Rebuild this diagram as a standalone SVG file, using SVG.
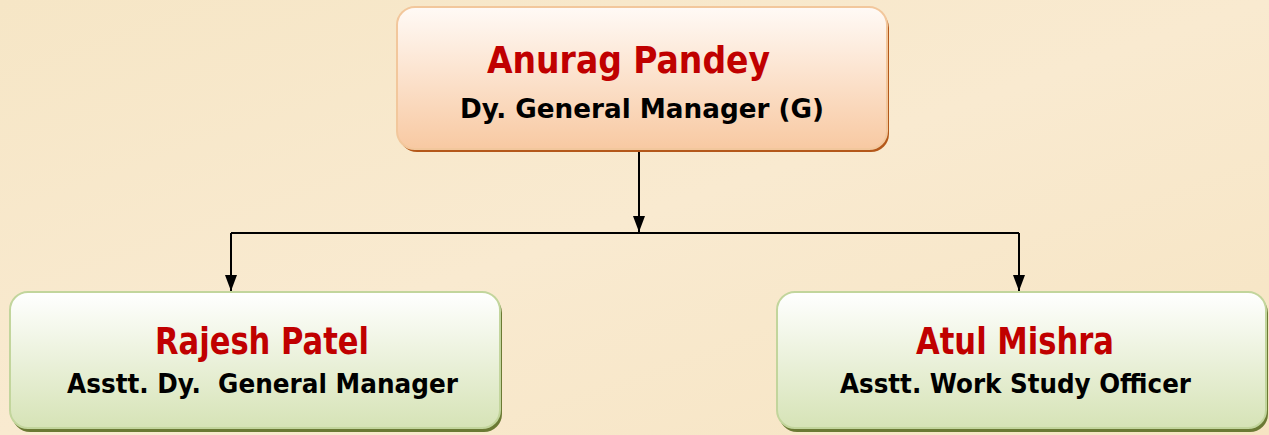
<svg xmlns="http://www.w3.org/2000/svg" width="1269" height="435" viewBox="0 0 1269 435">
<style>
.name{font-family:"DejaVu Sans Condensed","DejaVu Sans","Liberation Sans",sans-serif;font-weight:bold;fill:#c00000;font-size:38px;text-anchor:middle}
.title{font-family:"DejaVu Sans Condensed","DejaVu Sans","Liberation Sans",sans-serif;font-weight:bold;fill:#000;font-size:27px;text-anchor:middle}
.conn{stroke:#000;stroke-width:2;fill:none}
</style>
<defs>
<linearGradient id="bg" x1="0" y1="0" x2="1" y2="1">
<stop offset="0" stop-color="#f6e6c6"/><stop offset="0.5" stop-color="#f9ead0"/><stop offset="1" stop-color="#f6e4c2"/>
</linearGradient>
<linearGradient id="peach" x1="0" y1="0" x2="0" y2="1">
<stop offset="0" stop-color="#fffaf6"/><stop offset="1" stop-color="#f8c9a2"/>
</linearGradient>
<linearGradient id="green" x1="0" y1="0" x2="0" y2="1">
<stop offset="0" stop-color="#ffffff"/><stop offset="1" stop-color="#d6e3b6"/>
</linearGradient>
<marker id="arr" viewBox="0 0 16 12" refX="16" refY="6" markerWidth="16" markerHeight="12" markerUnits="userSpaceOnUse" orient="auto">
<path d="M0,0 L16,6 L0,12 Z" fill="#000"/>
</marker>
</defs>
<rect width="1269" height="435" fill="url(#bg)"/>
<g id="connectors">
<path class="conn" d="M639,151 V232" marker-end="url(#arr)"/>
<path class="conn" d="M231,233 H1019" stroke="#333"/>
<path class="conn" d="M231,233 V291" marker-end="url(#arr)"/>
<path class="conn" d="M1019,233 V291" marker-end="url(#arr)"/>
</g>
<g id="node-anurag">
<rect x="399" y="10" width="490" height="142" rx="18" fill="#b4581a"/>
<rect x="397" y="7" width="490" height="142" rx="18" fill="url(#peach)" stroke="#f2c79c" stroke-width="2"/>
<text class="name" x="628.5" y="73" textLength="283" lengthAdjust="spacingAndGlyphs">Anurag Pandey</text>
<text class="title" x="642" y="118" textLength="364" lengthAdjust="spacingAndGlyphs">Dy. General Manager (G)</text>
</g>
<g id="node-rajesh">
<rect x="12" y="295" width="490" height="137" rx="18" fill="#6b7a34"/>
<rect x="10" y="292" width="490" height="136" rx="18" fill="url(#green)" stroke="#c2d59c" stroke-width="2"/>
<text class="name" x="262" y="354" textLength="214" lengthAdjust="spacingAndGlyphs">Rajesh Patel</text>
<text class="title" x="262.5" y="393" xml:space="preserve" textLength="391" lengthAdjust="spacingAndGlyphs">Asstt. Dy.  General Manager</text>
</g>
<g id="node-atul">
<rect x="779" y="295" width="489" height="137" rx="18" fill="#6b7a34"/>
<rect x="777" y="292" width="489" height="136" rx="18" fill="url(#green)" stroke="#c2d59c" stroke-width="2"/>
<text class="name" x="1015" y="354" textLength="198" lengthAdjust="spacingAndGlyphs">Atul Mishra</text>
<text class="title" x="1015.5" y="393" textLength="351" lengthAdjust="spacingAndGlyphs">Asstt. Work Study Officer</text>
</g>
</svg>
